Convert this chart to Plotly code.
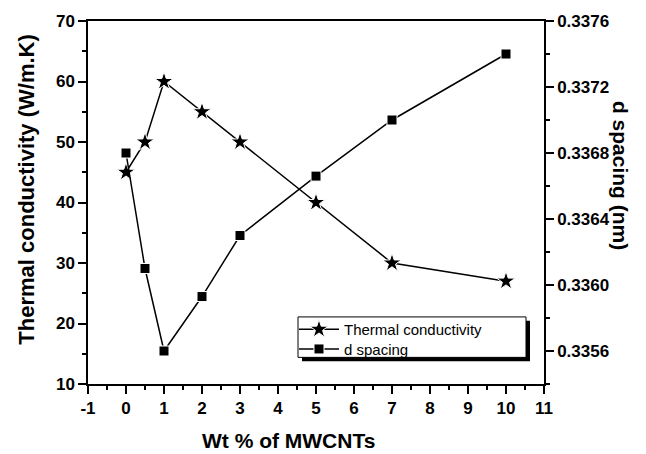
import plotly.graph_objects as go

wt = [0, 0.5, 1, 2, 3, 5, 7, 10]
thermal_conductivity = [45, 50, 60, 55, 50, 40, 30, 27]
d_spacing = [0.3368, 0.3361, 0.3356, 0.33593, 0.3363, 0.33666, 0.3370, 0.3374]

x_ticks = list(range(-1, 12))
y1_ticks = list(range(10, 71, 10))
y2_ticks = [0.3356, 0.3360, 0.3364, 0.3368, 0.3372, 0.3376]

FONT = "Liberation Sans, Arial, sans-serif"
W, H = 646, 454
L, R, T, B = 88, 102, 16, 70
PW, PH = W - L - R, H - T - B


def px(x):
    return (x - L) / PW


def py(y):
    return (H - B - y) / PH


fig = go.Figure()
fig.add_trace(go.Scatter(
    x=wt, y=thermal_conductivity, name="Thermal conductivity",
    mode="lines+markers", legend="legend",
    line=dict(color="black", width=1.5),
    marker=dict(symbol="star", size=14, color="black",
                line=dict(color="white", width=1)),
))
fig.add_trace(go.Scatter(
    x=wt, y=d_spacing, name="d spacing", yaxis="y2",
    mode="lines+markers", legend="legend2",
    line=dict(color="black", width=1.5),
    marker=dict(symbol="square", size=10, color="black",
                line=dict(color="white", width=1)),
))

axis_common = dict(
    showline=True, linecolor="black", linewidth=1.5,
    ticks="outside", ticklen=8, tickwidth=1.5, tickcolor="black",
    showgrid=False, zeroline=False,
    tickfont=dict(family=FONT, size=17, color="black", weight="bold"),
)

legend_common = dict(
    xanchor="left", yanchor="top",
    bgcolor="rgba(0,0,0,0)", borderwidth=0, itemwidth=40,
    font=dict(family=FONT, size=15, color="black"),
)

fig.update_layout(
    width=W, height=H,
    margin=dict(l=L, r=R, t=T, b=B),
    paper_bgcolor="white", plot_bgcolor="white",
    xaxis=dict(
        range=[-1, 11], tickmode="array", tickvals=x_ticks,
        ticktext=[str(v) for v in x_ticks],
        mirror=True,
        minor=dict(ticks="outside", ticklen=4, tickwidth=1.5,
                   tickcolor="black", dtick=0.5, tick0=0),
        **axis_common,
    ),
    yaxis=dict(
        range=[10, 70], tickmode="array", tickvals=y1_ticks,
        ticktext=[str(v) for v in y1_ticks],
        minor=dict(ticks="outside", ticklen=4, tickwidth=1.5,
                   tickcolor="black", dtick=5, tick0=0),
        **axis_common,
    ),
    yaxis2=dict(
        range=[0.3354, 0.3376], overlaying="y", side="right",
        tickmode="array", tickvals=y2_ticks,
        ticktext=[f"{v:.4f}" for v in y2_ticks],
        minor=dict(ticks="outside", ticklen=4, tickwidth=1.5,
                   tickcolor="black", dtick=0.0002, tick0=0.3354),
        **axis_common,
    ),
    showlegend=True,
    legend=dict(x=px(294), y=py(312), **legend_common),
    legend2=dict(x=px(294), y=py(332), **legend_common),
    shapes=[
        dict(type="rect", xref="paper", yref="paper",
             x0=px(302), x1=px(530), y0=py(361), y1=py(320),
             fillcolor="black", line=dict(width=0), layer="above"),
        dict(type="rect", xref="paper", yref="paper",
             x0=px(298), x1=px(526), y0=py(357), y1=py(316),
             fillcolor="white", line=dict(color="black", width=1),
             layer="above"),
    ],
    annotations=[
        dict(text="Thermal conductivity (W/m.K)", xref="paper", yref="paper",
             x=px(27), y=py(187), textangle=-90, showarrow=False,
             xanchor="center", yanchor="middle",
             font=dict(family=FONT, size=22, color="black", weight="bold")),
        dict(text="d spacing (nm)", xref="paper", yref="paper",
             x=px(620), y=py(172), textangle=90, showarrow=False,
             xanchor="center", yanchor="middle",
             font=dict(family=FONT, size=21, color="black", weight="bold")),
        dict(text="Wt % of MWCNTs", xref="paper", yref="paper",
             x=px(288), y=py(441), showarrow=False,
             xanchor="center", yanchor="middle",
             font=dict(family=FONT, size=21, color="black", weight="bold")),
    ],
)

fig.write_html("out.html")
